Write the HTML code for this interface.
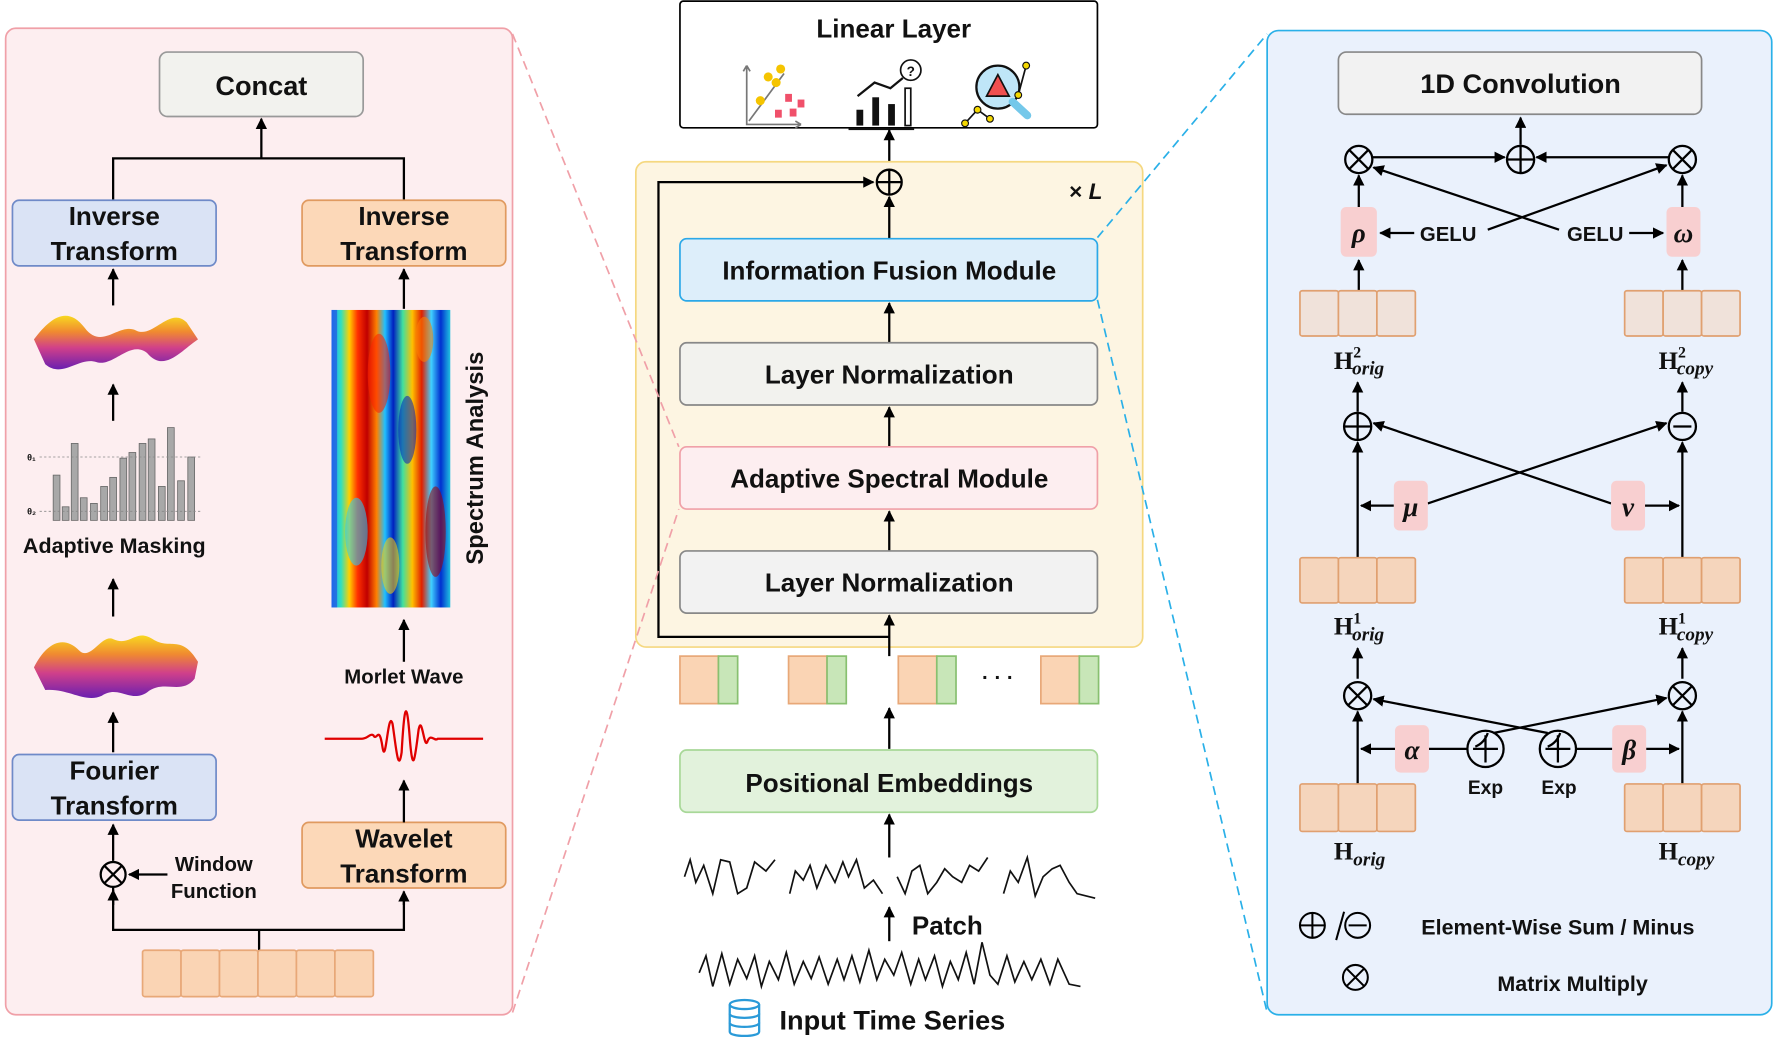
<!DOCTYPE html>
<html><head><meta charset="utf-8"><style>
html,body{margin:0;padding:0;background:#fff}
svg{display:block}
text{font-family:"Liberation Sans",sans-serif;font-weight:bold;fill:#111}
.m{font-family:"Liberation Serif",serif}
</style></head><body>
<svg width="1774" height="1043" viewBox="0 0 1568 922" preserveAspectRatio="none" xmlns="http://www.w3.org/2000/svg">
<defs>
<marker id="a" viewBox="0 0 10 10" refX="9" refY="5" markerWidth="5" markerHeight="5" orient="auto-start-reverse"><path d="M0,0L10,5L0,10z" fill="#000"/></marker>
<linearGradient id="surf" x1="0" y1="1" x2="0" y2="0"><stop offset="0" stop-color="#6a1fb0"/><stop offset="0.4" stop-color="#d0408a"/><stop offset="0.7" stop-color="#f08a30"/><stop offset="1" stop-color="#f8d820"/></linearGradient>
<linearGradient id="jet" x1="0" y1="0" x2="1" y2="0">
<stop offset="0" stop-color="#20a0ff"/><stop offset="0.08" stop-color="#30e0c0"/><stop offset="0.15" stop-color="#ffd000"/><stop offset="0.22" stop-color="#ff3000"/><stop offset="0.3" stop-color="#c00000"/><stop offset="0.38" stop-color="#ff8000"/><stop offset="0.45" stop-color="#20c0ff"/><stop offset="0.52" stop-color="#0020c0"/><stop offset="0.6" stop-color="#40e0a0"/><stop offset="0.68" stop-color="#ffc000"/><stop offset="0.76" stop-color="#e02000"/><stop offset="0.84" stop-color="#40d0ff"/><stop offset="0.92" stop-color="#0030d0"/><stop offset="1" stop-color="#20c0e0"/></linearGradient>
</defs>

<!-- LEFT PANEL -->
<rect x="5" y="25" width="448" height="872" rx="9" fill="#fdeef0" stroke="#f0a0a8" stroke-width="1.5"/>
<rect x="141" y="46" width="180" height="57" rx="7" fill="#f2f2ee" stroke="#999" stroke-width="1.5"/>
<text x="231" y="84" font-size="24" text-anchor="middle">Concat</text>
<path d="M100,178V140H357V178" fill="none" stroke="#000" stroke-width="2"/>
<line x1="231" y1="140" x2="231" y2="105" stroke="#000" stroke-width="2" marker-end="url(#a)"/>
<rect x="11" y="177" width="180" height="58" rx="6" fill="#dae3f5" stroke="#6f8ac8" stroke-width="1.5"/>
<text x="101" y="199" font-size="23" text-anchor="middle">Inverse</text>
<text x="101" y="230" font-size="23" text-anchor="middle">Transform</text>
<rect x="267" y="177" width="180" height="58" rx="6" fill="#fcd8b8" stroke="#e09a60" stroke-width="1.5"/>
<text x="357" y="199" font-size="23" text-anchor="middle">Inverse</text>
<text x="357" y="230" font-size="23" text-anchor="middle">Transform</text>
<line x1="100" y1="270" x2="100" y2="238" stroke="#000" stroke-width="2" marker-end="url(#a)"/>
<path d="M30,300 C45,280 60,270 75,290 C90,310 105,285 120,292 C135,300 150,270 165,285 L175,300 C160,310 145,330 130,312 C115,300 100,325 85,320 C70,315 55,335 40,322 Z" fill="url(#surf)"/>
<line x1="100" y1="372" x2="100" y2="340" stroke="#000" stroke-width="2" marker-end="url(#a)"/>
<g fill="#a8a8a8" stroke="#666" stroke-width="0.7">
<rect x="47" y="420" width="6" height="40"/><rect x="55" y="448" width="6" height="12"/><rect x="63" y="392" width="6" height="68"/><rect x="71" y="440" width="6" height="20"/><rect x="80" y="445" width="6" height="15"/><rect x="89" y="430" width="6" height="30"/><rect x="97" y="422" width="6" height="38"/><rect x="106" y="405" width="6" height="55"/><rect x="114" y="400" width="6" height="60"/><rect x="123" y="392" width="6" height="68"/><rect x="131" y="388" width="6" height="72"/><rect x="140" y="430" width="6" height="30"/><rect x="148" y="378" width="6" height="82"/><rect x="157" y="425" width="6" height="35"/><rect x="166" y="404" width="6" height="56"/></g>
<line x1="35" y1="404" x2="178" y2="404" stroke="#888" stroke-dasharray="2,2" stroke-width="0.7"/>
<line x1="35" y1="452" x2="178" y2="452" stroke="#888" stroke-dasharray="2,2" stroke-width="0.7"/>
<text x="24" y="407" font-size="8" font-weight="normal">θ₁</text><text x="24" y="455" font-size="8" font-weight="normal">θ₂</text>
<text x="101" y="489" font-size="19" text-anchor="middle">Adaptive Masking</text>
<line x1="100" y1="545" x2="100" y2="512" stroke="#000" stroke-width="2" marker-end="url(#a)"/>
<path d="M30,590 C40,570 55,560 70,575 C80,585 90,560 100,565 C115,572 120,555 135,565 C150,575 160,560 175,585 L172,600 C160,615 145,600 130,612 C115,622 105,605 90,615 C75,622 60,608 40,610 Z" fill="url(#surf)"/>
<line x1="100" y1="665" x2="100" y2="630" stroke="#000" stroke-width="2" marker-end="url(#a)"/>
<rect x="11" y="667" width="180" height="58" rx="6" fill="#dae3f5" stroke="#6f8ac8" stroke-width="1.5"/>
<text x="101" y="689" font-size="23" text-anchor="middle">Fourier</text>
<text x="101" y="720" font-size="23" text-anchor="middle">Transform</text>
<line x1="100" y1="761" x2="100" y2="729" stroke="#000" stroke-width="2" marker-end="url(#a)"/>
<circle cx="100" cy="773" r="11" fill="none" stroke="#000" stroke-width="2"/>
<path d="M92,765L108,781M108,765L92,781" stroke="#000" stroke-width="2"/>
<line x1="148" y1="773" x2="114" y2="773" stroke="#000" stroke-width="2" marker-end="url(#a)"/>
<text x="189" y="770" font-size="18" text-anchor="middle">Window</text>
<text x="189" y="794" font-size="18" text-anchor="middle">Function</text>
<path d="M100,784V822H357V790" fill="none" stroke="#000" stroke-width="2"/>
<line x1="357" y1="800" x2="357" y2="788" stroke="#000" stroke-width="2" marker-end="url(#a)"/>
<line x1="229" y1="822" x2="229" y2="840" stroke="#000" stroke-width="2"/>
<line x1="100" y1="800" x2="100" y2="787" stroke="#000" stroke-width="2" marker-end="url(#a)"/>
<g fill="#fad4b4" stroke="#e8a878" stroke-width="1.5">
<rect x="126" y="840" width="34" height="41" rx="2"/><rect x="160" y="840" width="34" height="41" rx="2"/><rect x="194" y="840" width="34" height="41" rx="2"/><rect x="228" y="840" width="34" height="41" rx="2"/><rect x="262" y="840" width="34" height="41" rx="2"/><rect x="296" y="840" width="34" height="41" rx="2"/></g>
<rect x="267" y="727" width="180" height="58" rx="6" fill="#fcd8b8" stroke="#e09a60" stroke-width="1.5"/>
<text x="357" y="749" font-size="23" text-anchor="middle">Wavelet</text>
<text x="357" y="780" font-size="23" text-anchor="middle">Transform</text>
<line x1="357" y1="727" x2="357" y2="690" stroke="#000" stroke-width="2" marker-end="url(#a)"/>
<path d="M287,653 L320,653 C325,653 327,648 330,650 C333,656 335,640 338,660 C341,680 343,625 347,640 C350,660 352,685 355,665 C357,630 359,612 362,650 C365,690 367,668 370,645 C373,630 375,665 378,655 C381,648 384,656 387,653 L427,653" fill="none" stroke="#e00000" stroke-width="2"/>
<text x="357" y="604" font-size="18" text-anchor="middle">Morlet Wave</text>
<line x1="357" y1="585" x2="357" y2="548" stroke="#000" stroke-width="2" marker-end="url(#a)"/>
<rect x="293" y="274" width="105" height="263" fill="url(#jet)"/>
<g opacity="0.55">
<ellipse cx="335" cy="330" rx="10" ry="35" fill="#ff2000"/><ellipse cx="385" cy="470" rx="9" ry="40" fill="#a00000"/><ellipse cx="360" cy="380" rx="8" ry="30" fill="#0020c0"/><ellipse cx="315" cy="470" rx="10" ry="30" fill="#20d0ff"/><ellipse cx="345" cy="500" rx="8" ry="25" fill="#ffd000"/><ellipse cx="375" cy="300" rx="8" ry="20" fill="#ff8000"/></g>
<rect x="293" y="274" width="5" height="263" fill="#2040e0" opacity="0.6"/>
<line x1="357" y1="273" x2="357" y2="238" stroke="#000" stroke-width="2" marker-end="url(#a)"/>
<text transform="translate(427,405) rotate(-90)" font-size="21" text-anchor="middle">Spectrum Analysis</text>

<!-- CENTER -->
<rect x="601" y="1" width="369" height="112" rx="3" fill="#fff" stroke="#000" stroke-width="1.5"/>
<text x="790" y="33" font-size="23" text-anchor="middle">Linear Layer</text>
<g stroke="#777" stroke-width="1.5" fill="none"><path d="M660,58V110H708M660,58l-3,5M660,58l3,5M708,110l-5,-3M708,110l-5,3M662,107L693,65"/></g>
<g fill="#f5c400"><circle cx="679" cy="68" r="4"/><circle cx="690" cy="61" r="4"/><circle cx="672" cy="89" r="4"/><circle cx="686" cy="73" r="4"/></g>
<g fill="#f0506a"><rect x="694" y="83" width="6" height="7"/><rect x="705" y="88" width="6" height="7"/><rect x="685" y="97" width="6" height="7"/><rect x="698" y="96" width="6" height="7"/></g>
<g fill="#111"><rect x="757" y="97" width="6" height="14"/><rect x="771" y="86" width="6" height="25"/><rect x="785" y="92" width="6" height="19"/><rect x="750" y="113" width="58" height="2"/></g>
<path d="M758,85L773,73L787,78L798,69" stroke="#111" stroke-width="2" fill="none"/>
<rect x="800" y="78" width="5" height="33" fill="none" stroke="#111" stroke-width="1.5"/>
<circle cx="805" cy="62" r="9" fill="#fff" stroke="#111" stroke-width="1.5"/><text x="805" y="67" font-size="12" text-anchor="middle">?</text>
<circle cx="882" cy="77" r="19" fill="#bfe6f8" stroke="#111" stroke-width="2"/>
<path d="M895,90L908,102" stroke="#74c8ea" stroke-width="7" stroke-linecap="round"/>
<path d="M882,66L872,85H892Z" fill="#f05050" stroke="#111" stroke-width="1.5"/>
<path d="M853,109L864,97L875,105M900,84L907,58" stroke="#111" stroke-width="1.5" fill="none"/>
<g fill="#f5d800" stroke="#111"><circle cx="853" cy="109" r="3"/><circle cx="864" cy="97" r="3"/><circle cx="875" cy="105" r="3"/><circle cx="907" cy="58" r="3"/><circle cx="900" cy="84" r="3"/></g>
<line x1="786" y1="150" x2="786" y2="115" stroke="#000" stroke-width="2" marker-end="url(#a)"/>
<rect x="562" y="143" width="448" height="429" rx="9" fill="#fdf5e2" stroke="#f5d880" stroke-width="1.5"/>
<text x="945" y="176" font-size="20">× <tspan font-style="italic">L</tspan></text>
<circle cx="786" cy="161" r="11" fill="none" stroke="#000" stroke-width="2"/>
<path d="M775,161H797M786,150V172" stroke="#000" stroke-width="2"/>
<path d="M786,563H582V161H772" fill="none" stroke="#000" stroke-width="2" marker-end="url(#a)"/>
<line x1="786" y1="211" x2="786" y2="174" stroke="#000" stroke-width="2" marker-end="url(#a)"/>
<rect x="601" y="211" width="369" height="55" rx="6" fill="#ddeefa" stroke="#2ba8e8" stroke-width="1.5"/>
<text x="786" y="247" font-size="23" text-anchor="middle">Information Fusion Module</text>
<line x1="786" y1="303" x2="786" y2="268" stroke="#000" stroke-width="2" marker-end="url(#a)"/>
<rect x="601" y="303" width="369" height="55" rx="6" fill="#f2f2ee" stroke="#888" stroke-width="1.5"/>
<text x="786" y="339" font-size="23" text-anchor="middle">Layer Normalization</text>
<line x1="786" y1="395" x2="786" y2="360" stroke="#000" stroke-width="2" marker-end="url(#a)"/>
<rect x="601" y="395" width="369" height="55" rx="6" fill="#fdeef0" stroke="#f0a0a8" stroke-width="1.5"/>
<text x="786" y="431" font-size="23" text-anchor="middle">Adaptive Spectral Module</text>
<line x1="786" y1="487" x2="786" y2="452" stroke="#000" stroke-width="2" marker-end="url(#a)"/>
<rect x="601" y="487" width="369" height="55" rx="6" fill="#f2f2f2" stroke="#888" stroke-width="1.5"/>
<text x="786" y="523" font-size="23" text-anchor="middle">Layer Normalization</text>
<line x1="786" y1="580" x2="786" y2="544" stroke="#000" stroke-width="2" marker-end="url(#a)"/>
<g stroke-width="1.5">
<rect x="601" y="580" width="34" height="42" fill="#fad4b4" stroke="#e8a878"/><rect x="635" y="580" width="17" height="42" fill="#c8e6b8" stroke="#88c070"/>
<rect x="697" y="580" width="34" height="42" fill="#fad4b4" stroke="#e8a878"/><rect x="731" y="580" width="17" height="42" fill="#c8e6b8" stroke="#88c070"/>
<rect x="794" y="580" width="34" height="42" fill="#fad4b4" stroke="#e8a878"/><rect x="828" y="580" width="17" height="42" fill="#c8e6b8" stroke="#88c070"/>
<rect x="920" y="580" width="34" height="42" fill="#fad4b4" stroke="#e8a878"/><rect x="954" y="580" width="17" height="42" fill="#c8e6b8" stroke="#88c070"/></g>
<text x="882" y="605" font-size="18" text-anchor="middle" font-weight="normal">· · ·</text>
<line x1="786" y1="662" x2="786" y2="626" stroke="#000" stroke-width="2" marker-end="url(#a)"/>
<rect x="601" y="663" width="369" height="55" rx="6" fill="#e2f2dc" stroke="#a8d898" stroke-width="1.5"/>
<text x="786" y="700" font-size="23" text-anchor="middle">Positional Embeddings</text>
<line x1="786" y1="758" x2="786" y2="720" stroke="#000" stroke-width="2" marker-end="url(#a)"/>
<g fill="none" stroke="#111" stroke-width="1.5">
<path d="M605,775L610,760L615,780L622,765L630,790L637,760L645,762L652,790L660,785L667,762L677,770L685,760"/>
<path d="M698,790L703,770L710,778L716,765L722,785L730,765L738,780L745,762L750,775L757,760L764,785L772,778L780,790"/>
<path d="M793,775L800,790L806,770L813,765L820,790L828,780L835,768L842,775L850,780L857,765L865,770L873,758"/>
<path d="M887,790L893,770L900,780L908,758L915,792L922,775L930,768L937,765L945,780L952,790L960,792L968,794"/>
<path d="M618,860L624,845L630,872L638,843L645,870L652,848L660,865L667,845L673,872L680,850L688,866L695,842L702,870L710,850L717,865L724,846L732,870L740,848L746,866L753,845L760,868L768,840L775,866L782,848L790,862L797,842L805,870L812,848L818,866L826,845L833,872L840,850L847,866L854,842L861,870L868,833L875,862L882,870L890,845L897,868L905,850L912,866L920,848L928,870L935,848L945,870L955,872"/></g>
<line x1="786" y1="832" x2="786" y2="802" stroke="#000" stroke-width="2" marker-end="url(#a)"/>
<text x="806" y="826" font-size="23">Patch</text>
<g fill="#fff" stroke="#2a9ad8" stroke-width="2"><path d="M645,888v24c0,5 26,5 26,0v-24"/><ellipse cx="658" cy="888" rx="13" ry="4"/><path d="M645,896c0,5 26,5 26,0M645,904c0,5 26,5 26,0"/></g>
<text x="689" y="910" font-size="24">Input Time Series</text>

<!-- RIGHT PANEL -->
<rect x="1120" y="27" width="446" height="870" rx="10" fill="#eaf1fc" stroke="#2ab0e8" stroke-width="1.5"/>
<rect x="1183" y="46" width="321" height="55" rx="7" fill="#f2f2f2" stroke="#888" stroke-width="1.5"/>
<text x="1344" y="82" font-size="24" text-anchor="middle">1D Convolution</text>
<g stroke="#000" stroke-width="2" fill="none">
<line x1="1344" y1="128" x2="1344" y2="104" marker-end="url(#a)"/>
<circle cx="1201" cy="141" r="12"/><path d="M1193,133l16,16M1209,133l-16,16"/>
<circle cx="1344" cy="141" r="12"/><path d="M1332,141h24M1344,129v24"/>
<circle cx="1487" cy="141" r="12"/><path d="M1479,133l16,16M1495,133l-16,16"/>
<line x1="1213" y1="139" x2="1330" y2="139" marker-end="url(#a)"/>
<line x1="1475" y1="139" x2="1358" y2="139" marker-end="url(#a)"/>
<line x1="1201" y1="183" x2="1201" y2="155" marker-end="url(#a)"/>
<line x1="1487" y1="183" x2="1487" y2="155" marker-end="url(#a)"/>
<line x1="1250" y1="206" x2="1220" y2="206" marker-end="url(#a)"/>
<line x1="1440" y1="206" x2="1470" y2="206" marker-end="url(#a)"/>
<line x1="1315" y1="203" x2="1473" y2="146" marker-end="url(#a)"/>
<line x1="1378" y1="203" x2="1214" y2="148" marker-end="url(#a)"/>
<line x1="1201" y1="257" x2="1201" y2="230" marker-end="url(#a)"/>
<line x1="1487" y1="257" x2="1487" y2="230" marker-end="url(#a)"/>
<line x1="1200" y1="364" x2="1200" y2="338" marker-end="url(#a)"/>
<line x1="1487" y1="364" x2="1487" y2="338" marker-end="url(#a)"/>
<circle cx="1200" cy="377" r="12"/><path d="M1188,377h24M1200,365v24"/>
<circle cx="1487" cy="377" r="12"/><path d="M1479,377h16"/>
<line x1="1200" y1="493" x2="1200" y2="391" marker-end="url(#a)"/>
<line x1="1487" y1="493" x2="1487" y2="391" marker-end="url(#a)"/>
<line x1="1232" y1="447" x2="1203" y2="447" marker-end="url(#a)"/>
<line x1="1454" y1="447" x2="1484" y2="447" marker-end="url(#a)"/>
<line x1="1262" y1="445" x2="1473" y2="374" marker-end="url(#a)"/>
<line x1="1424" y1="445" x2="1214" y2="374" marker-end="url(#a)"/>
<line x1="1200" y1="600" x2="1200" y2="573" marker-end="url(#a)"/>
<line x1="1487" y1="600" x2="1487" y2="573" marker-end="url(#a)"/>
<circle cx="1200" cy="615" r="12"/><path d="M1192,607l16,16M1208,607l-16,16"/>
<circle cx="1487" cy="615" r="12"/><path d="M1479,607l16,16M1495,607l-16,16"/>
<line x1="1200" y1="693" x2="1200" y2="629" marker-end="url(#a)"/>
<line x1="1487" y1="693" x2="1487" y2="629" marker-end="url(#a)"/>
<line x1="1233" y1="662" x2="1203" y2="662" marker-end="url(#a)"/>
<line x1="1455" y1="662" x2="1484" y2="662" marker-end="url(#a)"/>
<line x1="1263" y1="662" x2="1297" y2="662"/><line x1="1393" y1="662" x2="1425" y2="662"/>
<circle cx="1313" cy="662" r="16"/><path d="M1302,662h22M1313,650v24M1304,660c5,-2 9,-6 11,-12"/>
<circle cx="1377" cy="662" r="16"/><path d="M1366,662h22M1377,650v24M1368,660c5,-2 9,-6 11,-12"/>
<line x1="1320" y1="648" x2="1473" y2="617" marker-end="url(#a)"/>
<line x1="1368" y1="648" x2="1214" y2="618" marker-end="url(#a)"/>
</g>
<g fill="#f8cfd0"><rect x="1185" y="183" width="32" height="44" rx="5"/><rect x="1473" y="183" width="30" height="44" rx="5"/><rect x="1232" y="425" width="30" height="44" rx="5"/><rect x="1424" y="425" width="30" height="44" rx="5"/><rect x="1233" y="641" width="30" height="42" rx="5"/><rect x="1425" y="641" width="30" height="42" rx="5"/></g>
<text class="m" x="1201" y="214" text-anchor="middle" font-size="24" font-style="italic">ρ</text>
<text class="m" x="1488" y="214" text-anchor="middle" font-size="24" font-style="italic">ω</text>
<text class="m" x="1247" y="456" text-anchor="middle" font-size="24" font-style="italic">μ</text>
<text class="m" x="1439" y="456" text-anchor="middle" font-size="24" font-style="italic">ν</text>
<text class="m" x="1248" y="671" text-anchor="middle" font-size="24" font-style="italic">α</text>
<text class="m" x="1440" y="671" text-anchor="middle" font-size="24" font-style="italic">β</text>
<text x="1280" y="213" font-size="18" text-anchor="middle" font-weight="normal">GELU</text>
<text x="1410" y="213" font-size="18" text-anchor="middle" font-weight="normal">GELU</text>
<text x="1313" y="702" font-size="17" text-anchor="middle" font-weight="normal">Exp</text>
<text x="1378" y="702" font-size="17" text-anchor="middle" font-weight="normal">Exp</text>
<g stroke-width="1.5" stroke="#e0a070">
<g fill="#f0e2da"><rect x="1149" y="257" width="34" height="40" rx="2"/><rect x="1183" y="257" width="34" height="40" rx="2"/><rect x="1217" y="257" width="34" height="40" rx="2"/><rect x="1436" y="257" width="34" height="40" rx="2"/><rect x="1470" y="257" width="34" height="40" rx="2"/><rect x="1504" y="257" width="34" height="40" rx="2"/></g>
<g fill="#f5d5bc"><rect x="1149" y="493" width="34" height="40" rx="2"/><rect x="1183" y="493" width="34" height="40" rx="2"/><rect x="1217" y="493" width="34" height="40" rx="2"/><rect x="1436" y="493" width="34" height="40" rx="2"/><rect x="1470" y="493" width="34" height="40" rx="2"/><rect x="1504" y="493" width="34" height="40" rx="2"/>
<rect x="1149" y="693" width="34" height="42" rx="2"/><rect x="1183" y="693" width="34" height="42" rx="2"/><rect x="1217" y="693" width="34" height="42" rx="2"/><rect x="1436" y="693" width="34" height="42" rx="2"/><rect x="1470" y="693" width="34" height="42" rx="2"/><rect x="1504" y="693" width="34" height="42" rx="2"/></g></g>
<text class="m" x="1179" y="326" font-size="22">H<tspan font-size="14" dy="-10">2</tspan><tspan font-size="17" font-style="italic" dx="-8" dy="15">orig</tspan></text>
<text class="m" x="1466" y="326" font-size="22">H<tspan font-size="14" dy="-10">2</tspan><tspan font-size="17" font-style="italic" dx="-8" dy="15">copy</tspan></text>
<text class="m" x="1179" y="561" font-size="22">H<tspan font-size="14" dy="-10">1</tspan><tspan font-size="17" font-style="italic" dx="-8" dy="15">orig</tspan></text>
<text class="m" x="1466" y="561" font-size="22">H<tspan font-size="14" dy="-10">1</tspan><tspan font-size="17" font-style="italic" dx="-8" dy="15">copy</tspan></text>
<text class="m" x="1179" y="760" font-size="22">H<tspan font-size="17" font-style="italic" dy="5">orig</tspan></text>
<text class="m" x="1466" y="760" font-size="22">H<tspan font-size="17" font-style="italic" dy="5">copy</tspan></text>
<g stroke="#000" stroke-width="1.8" fill="none">
<circle cx="1160" cy="818" r="11"/><path d="M1149,818h22M1160,807v22"/>
<path d="M1188,806l-7,25"/>
<circle cx="1200" cy="818" r="11"/><path d="M1192,818h16"/>
<circle cx="1198" cy="864" r="11"/><path d="M1190,856l16,16M1206,856l-16,16"/></g>
<text x="1377" y="826" font-size="19" text-anchor="middle">Element-Wise Sum / Minus</text>
<text x="1390" y="876" font-size="19" text-anchor="middle">Matrix Multiply</text>

<!-- dashed connectors (on top) -->
<line x1="453" y1="30" x2="600" y2="395" stroke="#f0a0a8" stroke-width="1.5" stroke-dasharray="8,5"/>
<line x1="453" y1="895" x2="600" y2="450" stroke="#f0a0a8" stroke-width="1.5" stroke-dasharray="8,5"/>
<line x1="970" y1="210" x2="1120" y2="30" stroke="#2ab0e8" stroke-width="1.5" stroke-dasharray="8,5"/>
<line x1="970" y1="265" x2="1120" y2="895" stroke="#2ab0e8" stroke-width="1.5" stroke-dasharray="8,5"/>
</svg>
</body></html>
